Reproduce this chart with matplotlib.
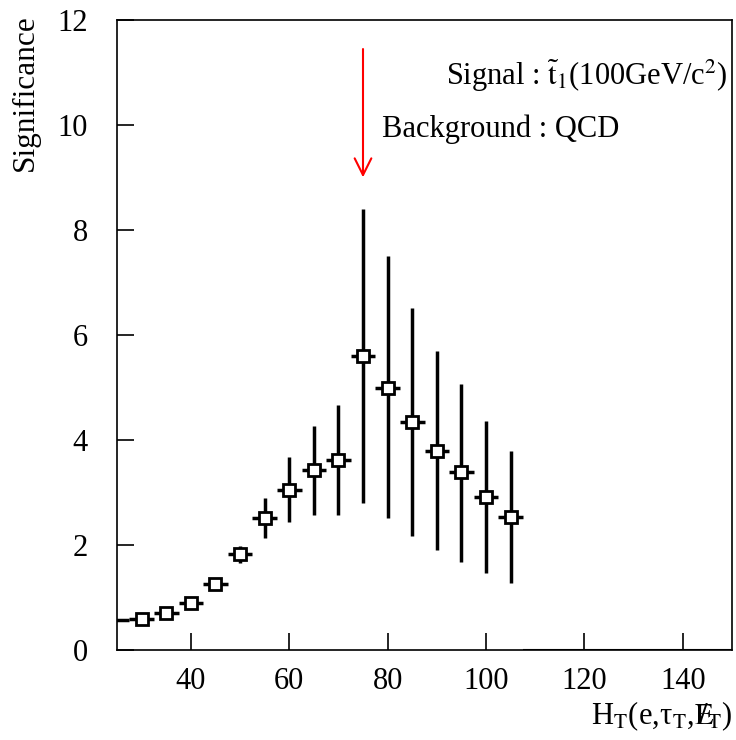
import matplotlib
matplotlib.use('Agg')
import matplotlib.pyplot as plt
import numpy as np

plt.rcParams['font.family'] = ['Liberation Serif', 'DejaVu Serif']
plt.rcParams['mathtext.fontset'] = 'stix'

# bin centres (GeV) and significance
ht = [30, 35, 40, 45, 50, 55, 60, 65, 70, 75, 80, 85, 90, 95, 100, 105]
sig = [0.59, 0.70, 0.90, 1.26, 1.82, 2.51, 3.05, 3.43, 3.62, 5.60, 4.99, 4.34, 3.79, 3.39, 2.91, 2.53]
sig_hi = [0.59, 0.70, 0.90, 1.26, 1.99, 2.90, 3.68, 4.27, 4.67, 8.40, 7.50, 6.51, 5.70, 5.07, 4.36, 3.79]
sig_lo = [0.59, 0.70, 0.90, 1.26, 1.65, 2.13, 2.44, 2.57, 2.57, 2.80, 2.51, 2.17, 1.90, 1.68, 1.47, 1.28]
bin_half = 2.5

# edge bin (centre on the frame, marker not drawn) and empty bins above 107.5
ht_edge = [25]
sig_edge = [0.57]
ht_empty = [110, 115, 120, 125, 130, 135, 140, 145, 150]
sig_empty = [0] * len(ht_empty)

cut_ht = 75

fig = plt.figure(figsize=(7.36, 7.40), dpi=100)
ax = fig.add_axes([117/736, 1 - 650/740, 615/736, 630/740])

ht = np.array(ht)
sig = np.array(sig)
yerr = [sig - np.array(sig_lo), np.array(sig_hi) - sig]
ax.errorbar(ht, sig, xerr=bin_half, yerr=yerr, fmt='s', color='black',
            mfc='white', mec='black', mew=2, ms=8.5, elinewidth=2.5, capsize=0, zorder=3)
ax.errorbar(ht_edge, sig_edge, xerr=bin_half, fmt='none', ecolor='black',
            elinewidth=2.5, capsize=0, zorder=3)
ax.errorbar(ht_empty, sig_empty, xerr=bin_half, fmt='none', ecolor='black',
            elinewidth=1.5, capsize=0, zorder=3)

# arrow at the cut
ax.annotate('', xy=(cut_ht, 8.95), xytext=(cut_ht, 11.5),
            arrowprops=dict(arrowstyle='->', color='red', lw=1.5, mutation_scale=30))

ax.text(0.993, 0.897, r'Signal : $\tilde{\mathrm{t}}_1$(100GeV/c$^2$)', transform=ax.transAxes,
        ha='right', va='baseline', fontsize=22)
ax.text(0.431, 0.814, 'Background : QCD', transform=ax.transAxes,
        ha='left', va='baseline', fontsize=22)

ax.set_xlim(25, 150)
ax.set_ylim(0, 12)
ax.set_xticks([40, 60, 80, 100, 120, 140])
ax.set_yticks([0, 2, 4, 6, 8, 10, 12])
ax.tick_params(direction='in', length=12, width=1.2, labelsize=22)
ax.tick_params(axis='x', pad=12)
ax.tick_params(axis='y', pad=21)
for s in ax.spines.values():
    s.set_linewidth(1.2)

fig.text(25/736, 1 - 14/740, 'Significance', rotation=90, ha='center', va='top', fontsize=22.5)
fig.text(732/736, 1 - 716/740, r'H$_\mathrm{T}$(e,τ$_\mathrm{T}$,$\mathrm{E}\!\!\!\!/_\mathrm{T}$)',
         ha='right', va='center', fontsize=22)

plt.savefig('out.png', dpi=100)
